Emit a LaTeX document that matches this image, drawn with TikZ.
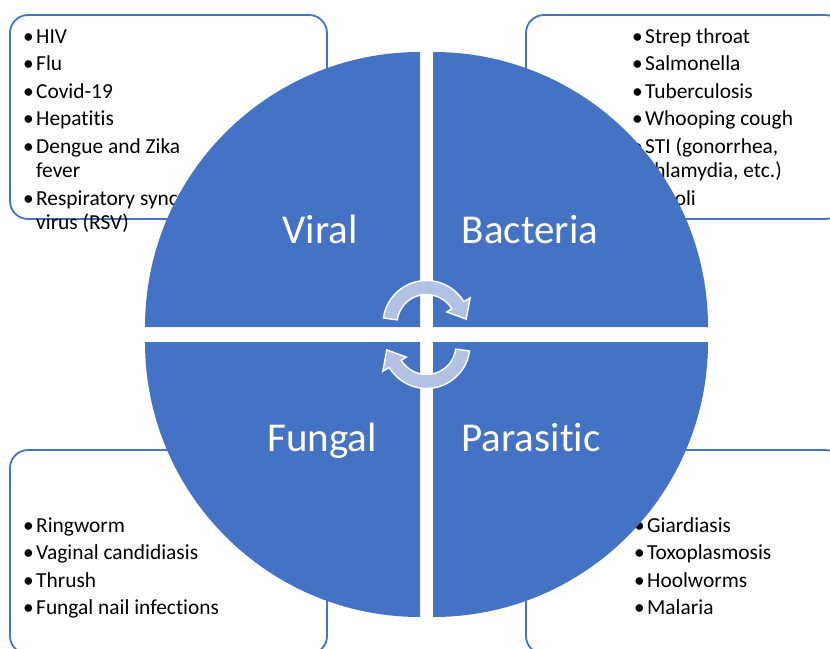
\documentclass[tikz,border=0pt]{standalone}
\usepackage{fontspec}
\setmainfont{Carlito}[Ligatures={NoCommon}]
\usetikzlibrary{calc}
\definecolor{qblue}{HTML}{4472C4}
\definecolor{arrowfill}{HTML}{B3C1E4}
\newcommand{\bulit}{\makebox[13pt][l]{\textbullet}}
\tikzset{
  infobox/.style={draw=qblue, line width=1.8pt, rounded corners=18pt, fill=white},
  quad/.style={fill=qblue},
  lbl/.style={text=white, font=\fontsize{41}{41}\selectfont, inner sep=0pt},
  listtext/.style={text=black, font=\fontsize{21.4}{24.5}\selectfont, inner sep=0pt, align=left},
  cyclearrow/.style={fill=arrowfill, draw=white, line width=1.4pt, line join=miter}
}
\begin{document}
\begin{tikzpicture}[x=1pt,y=1pt]
\useasboundingbox (0,0) rectangle (830,-648);
\clip (0,0) rectangle (830,-648);
\fill[white] (0,0) rectangle (830,-648);
% boxes
\draw[infobox] (10,-15) rectangle (327,-219);
\draw[infobox] (526,-15) rectangle (843,-219);
\draw[infobox] (10,-450) rectangle (327,-654);
\draw[infobox] (526,-450) rectangle (843,-654);
% lists
\node[listtext, anchor=base west] (vlist) at (23,-43) {\begin{tabular}[t]{@{}l@{}l@{}}
\bulit & HIV\\[3pt]
\bulit & Flu\\[3pt]
\bulit & Covid-19\\[3pt]
\bulit & Hepatitis\\[3pt]
\bulit & Dengue and Zika\\
 & fever\\[3pt]
\bulit & Respiratory syncytial\\
 & virus (RSV)
\end{tabular}};
\node[listtext, anchor=base west] (blist) at (632,-43) {\begin{tabular}[t]{@{}l@{}l@{}}
\bulit & Strep throat\\[3pt]
\bulit & Salmonella\\[3pt]
\bulit & Tuberculosis\\[3pt]
\bulit & Whooping cough\\[3pt]
\bulit & STI (gonorrhea,\\
 & chlamydia, etc.)\\[3pt]
\bulit & E. coli
\end{tabular}};
\node[listtext, anchor=base west] (flist) at (23,-532) {\begin{tabular}[t]{@{}l@{}l@{}}
\bulit & Ringworm\\[3pt]
\bulit & Vaginal candidiasis\\[3pt]
\bulit & Thrush\\[3pt]
\bulit & Fungal nail infections
\end{tabular}};
\node[listtext, anchor=base west] (plist) at (634,-532) {\begin{tabular}[t]{@{}l@{}l@{}}
\bulit & Giardiasis\\[3pt]
\bulit & Toxoplasmosis\\[3pt]
\bulit & Hoolworms\\[3pt]
\bulit & Malaria
\end{tabular}};
% quadrants
\fill[quad] (420,-327) -- ++(180:275) arc[start angle=180, end angle=90, radius=275] -- cycle;
\fill[quad] (433,-327) -- ++(0:275) arc[start angle=0, end angle=90, radius=275] -- cycle;
\fill[quad] (420,-342) -- ++(180:275) arc[start angle=180, end angle=270, radius=275] -- cycle;
\fill[quad] (433,-342) -- ++(0:275) arc[start angle=0, end angle=-90, radius=275] -- cycle;
% labels
\node[lbl, anchor=base] (viral) at (320,-243) {Viral};
\node[lbl, anchor=base] (bact) at (530,-243) {Bacteria};
\node[lbl, anchor=base] (fungal) at (322,-451) {Fungal};
\node[lbl, anchor=base] (paras) at (531,-451) {Parasitic};
% cycle arrows
\coordinate (A) at (426.5,-324);
\path[cyclearrow] ($(A)+(172:43.5)$) arc[start angle=172, end angle=31, radius=43.5]
  -- ($(A)+(31:51)$) -- ($(A)+(7:40)$) -- ($(A)+(31:23.5)$) -- ($(A)+(31:29.5)$)
  arc[start angle=31, end angle=172, radius=29.5] -- cycle;
\begin{scope}[rotate around={180:(426.5,-334.5)}]
\coordinate (B) at (426.5,-324);
\path[cyclearrow] ($(B)+(172:43.5)$) arc[start angle=172, end angle=31, radius=43.5]
  -- ($(B)+(31:51)$) -- ($(B)+(7:40)$) -- ($(B)+(31:23.5)$) -- ($(B)+(31:29.5)$)
  arc[start angle=31, end angle=172, radius=29.5] -- cycle;
\end{scope}
\end{tikzpicture}
\end{document}
